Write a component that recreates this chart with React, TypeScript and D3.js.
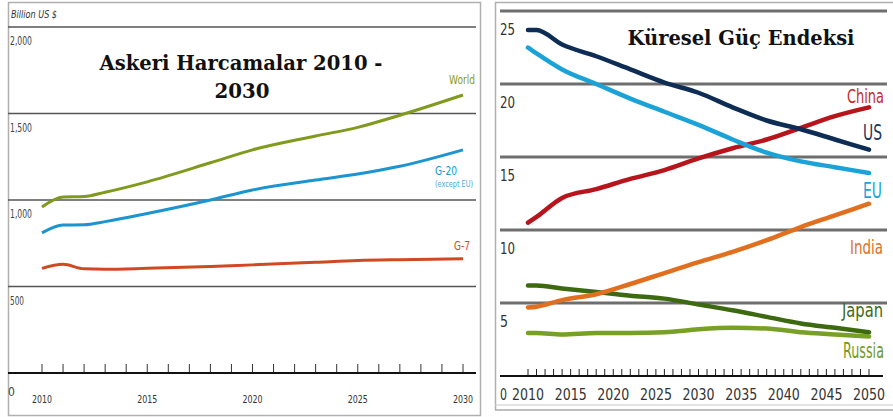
import React from "react";
import * as d3 from "d3";

// ---------- Left chart: Askeri Harcamalar 2010 - 2030 ----------
const leftYears = [2010, 2011, 2012, 2013, 2015, 2018, 2020, 2023, 2025, 2027, 2030];
const worldValues = [960, 1017, 1020, 1045, 1105, 1215, 1290, 1370, 1420, 1490, 1607];
const g20Values = [810, 855, 857, 875, 922, 1000, 1058, 1115, 1150, 1195, 1290];
const g7Values = [605, 628, 602, 600, 605, 615, 625, 640, 650, 655, 660];
const leftYTicks = [2000, 1500, 1000, 500];
const leftYTickLabels = ["2,000", "1,500", "1,000", "500"];
const leftXTickLabels = [2010, 2015, 2020, 2025, 2030];

// ---------- Right chart: Küresel Güç Endeksi ----------
const rightYears = [2010, 2011, 2014, 2018, 2022, 2026, 2030, 2034, 2038, 2042, 2046, 2050];
const usValues = [23.7, 23.7, 22.7, 21.9, 21.0, 20.1, 19.4, 18.4, 17.5, 16.9, 16.2, 15.5];
const euValues = [22.5, 22.1, 21.0, 20.0, 19.0, 18.1, 17.2, 16.2, 15.3, 14.7, 14.3, 13.9];
const chinaValues = [10.5, 10.9, 12.2, 12.8, 13.5, 14.1, 14.9, 15.6, 16.2, 17.0, 17.8, 18.4];
const indiaValues = [4.7, 4.75, 5.2, 5.6, 6.3, 7.05, 7.8, 8.5, 9.3, 10.2, 11.0, 11.8];
const japanValues = [6.2, 6.2, 6.0, 5.75, 5.5, 5.3, 4.9, 4.5, 4.05, 3.6, 3.3, 3.0];
const russiaValues = [2.95, 2.95, 2.85, 2.95, 2.95, 3.0, 3.2, 3.3, 3.25, 3.0, 2.85, 2.7];
const rightYTicks = [25, 20, 15, 10, 5];
const rightXTickLabels = [2010, 2015, 2020, 2025, 2030, 2035, 2040, 2045, 2050];

const NARROW = "'Liberation Sans Narrow', 'DejaVu Sans Condensed', 'Arial Narrow', sans-serif";
const SERIF = "'DejaVu Serif', Georgia, serif";

export default function App() {
  // Left scales
  const lx = d3.scaleLinear().domain([2010, 2030]).range([42, 463]);
  const ly = d3.scaleLinear().domain([0, 2000]).range([373, 27]);
  const lLine = (vals: number[]) =>
    d3
      .line<number>()
      .x((_, i) => lx(leftYears[i]))
      .y((v) => ly(v))
      .curve(d3.curveMonotoneX)(vals) as string;

  // Right scales
  const rx = d3.scaleLinear().domain([2010, 2050]).range([528, 869]);
  const ry = d3.scaleLinear().domain([0, 25]).range([376, 11]);
  const rLine = (vals: number[]) =>
    d3
      .line<number>()
      .x((_, i) => rx(rightYears[i]))
      .y((v) => ry(v))
      .curve(d3.curveMonotoneX)(vals) as string;

  const leftSeries = [
    { vals: g7Values, color: "#cf4a22" },
    { vals: g20Values, color: "#1b94cf" },
    { vals: worldValues, color: "#7f9a1c" },
  ];
  const rightSeries = [
    { vals: russiaValues, color: "#78a024" },
    { vals: japanValues, color: "#3d6a10" },
    { vals: indiaValues, color: "#e0701f" },
    { vals: chinaValues, color: "#b8141c" },
    { vals: euValues, color: "#1ba3d8" },
    { vals: usValues, color: "#0d2d55" },
  ];

  const leftTicks = d3.range(2010, 2031);
  const rightTicks = d3.range(2010, 2051);

  return (
    <svg
      width={893}
      height={417}
      style={{ position: "absolute", left: 0, top: 0, background: "#fff" }}
    >
      <rect x={0} y={0} width={893} height={417} fill="#fff" />

      {/* ================= LEFT CHART ================= */}
      <rect x={8.5} y={2.5} width={472} height={413} fill="none" stroke="#b0b0b0" strokeWidth={1.5} />
      <text x={11} y={18} fontFamily={NARROW} fontStyle="italic" fontSize={11} textLength={46} lengthAdjust="spacingAndGlyphs" fill="#333">
        Billion US $
      </text>
      {leftYTicks.map((t, i) => (
        <g key={t}>
          <line x1={8} x2={476} y1={ly(t)} y2={ly(t)} stroke="#555" strokeWidth={1.5} />
          <text x={10} y={ly(t) + 18} fontFamily={NARROW} fontSize={12}
            textLength={t >= 1000 ? 22 : 14} lengthAdjust="spacingAndGlyphs" fill="#444">
            {leftYTickLabels[i]}
          </text>
        </g>
      ))}
      <text x={8} y={396} fontFamily={NARROW} fontSize={12} fill="#444">0</text>
      {/* x axis */}
      {leftTicks.map((t) => (
        <line key={t} x1={lx(t)} x2={lx(t)} y1={364} y2={373} stroke="#333" strokeWidth={1} />
      ))}
      <line x1={8} x2={476} y1={373} y2={373} stroke="#111" strokeWidth={2} />
      {leftXTickLabels.map((t) => (
        <text key={t} x={lx(t)} y={403} textAnchor="middle" fontFamily={NARROW} fontSize={11}
          textLength={20} lengthAdjust="spacingAndGlyphs" fill="#333">
          {t}
        </text>
      ))}
      {/* series */}
      {leftSeries.map((s, i) => (
        <path key={i} d={lLine(s.vals)} fill="none" stroke={s.color} strokeWidth={3} strokeLinejoin="round" />
      ))}
      {/* labels */}
      <text x={475} y={84} textAnchor="end" fontFamily={NARROW} fontSize={13} textLength={26} lengthAdjust="spacingAndGlyphs" fill="#8a9a1c">World</text>
      <text x={435} y={175} fontFamily={NARROW} fontSize={13} textLength={22} lengthAdjust="spacingAndGlyphs" fill="#1b94cf">G-20</text>
      <text x={435} y={187} fontFamily={NARROW} fontSize={9} textLength={38} lengthAdjust="spacingAndGlyphs" fill="#4aa8d8">(except EU)</text>
      <text x={470} y={250} textAnchor="end" fontFamily={NARROW} fontSize={13} textLength={16} lengthAdjust="spacingAndGlyphs" fill="#cf4a22">G-7</text>
      {/* title */}
      <text x={241} y={70} textAnchor="middle" fontFamily={SERIF} fontWeight="bold" fontSize={20}
        textLength={283} lengthAdjust="spacingAndGlyphs" fill="#111">
        Askeri Harcamalar 2010 -
      </text>
      <text x={242} y={98} textAnchor="middle" fontFamily={SERIF} fontWeight="bold" fontSize={20}
        textLength={55} lengthAdjust="spacingAndGlyphs" fill="#111">
        2030
      </text>

      {/* ================= RIGHT CHART ================= */}
      <line x1={495.5} x2={495.5} y1={2} y2={410} stroke="#b0b0b0" strokeWidth={1.5} />
      <line x1={495} x2={893} y1={2.5} y2={2.5} stroke="#b0b0b0" strokeWidth={1.5} />
      <line x1={495} x2={893} y1={405} y2={405} stroke="#c8c8c8" strokeWidth={1} />
      <line x1={495} x2={893} y1={410} y2={410} stroke="#a8a8a8" strokeWidth={1.5} />
      {rightYTicks.map((t) => (
        <g key={t}>
          <line x1={500} x2={887} y1={ry(t)} y2={ry(t)} stroke="#6e6e6e" strokeWidth={3} />
          <text x={500} y={ry(t) + 24} fontFamily={NARROW} fontSize={16}
            textLength={t >= 10 ? 15 : 8} lengthAdjust="spacingAndGlyphs" fill="#333">
            {t}
          </text>
        </g>
      ))}
      {/* x axis */}
      {rightTicks.map((t) => (
        <line key={t} x1={rx(t)} x2={rx(t)} y1={369} y2={376} stroke="#222" strokeWidth={1} />
      ))}
      <line x1={500} x2={883} y1={376} y2={376} stroke="#111" strokeWidth={2} />
      <text x={500} y={400} fontFamily={NARROW} fontSize={16} textLength={7} lengthAdjust="spacingAndGlyphs" fill="#333">0</text>
      {rightXTickLabels.map((t) => (
        <text key={t} x={rx(t)} y={400} textAnchor="middle" fontFamily={NARROW} fontSize={16}
          textLength={32} lengthAdjust="spacingAndGlyphs" fill="#333">
          {t}
        </text>
      ))}
      {/* series */}
      {rightSeries.map((s, i) => (
        <path key={i} d={rLine(s.vals)} fill="none" stroke={s.color} strokeWidth={4.5} strokeLinecap="round" strokeLinejoin="round" />
      ))}
      {/* labels */}
      <text x={884} y={103} textAnchor="end" fontFamily={NARROW} fontSize={20} textLength={37} lengthAdjust="spacingAndGlyphs" fill="#c42a2a">China</text>
      <text x={882} y={140} textAnchor="end" fontFamily={NARROW} fontSize={21} textLength={19} lengthAdjust="spacingAndGlyphs" fill="#17375e">US</text>
      <text x={882} y={198} textAnchor="end" fontFamily={NARROW} fontSize={21} textLength={19} lengthAdjust="spacingAndGlyphs" fill="#1ba3d8">EU</text>
      <text x={883} y={254} textAnchor="end" fontFamily={NARROW} fontSize={20} textLength={33} lengthAdjust="spacingAndGlyphs" fill="#dd6f26">India</text>
      <text x={883} y={317} textAnchor="end" fontFamily={NARROW} fontSize={20} textLength={41} lengthAdjust="spacingAndGlyphs" fill="#3d6a10">Japan</text>
      <text x={884} y={358} textAnchor="end" fontFamily={NARROW} fontSize={21} textLength={41} lengthAdjust="spacingAndGlyphs" fill="#6f9a25">Russia</text>
      {/* title */}
      <text x={741} y={45} textAnchor="middle" fontFamily={SERIF} fontWeight="bold" fontSize={20}
        textLength={227} lengthAdjust="spacingAndGlyphs" fill="#111">
        Küresel Güç Endeksi
      </text>
    </svg>
  );
}
